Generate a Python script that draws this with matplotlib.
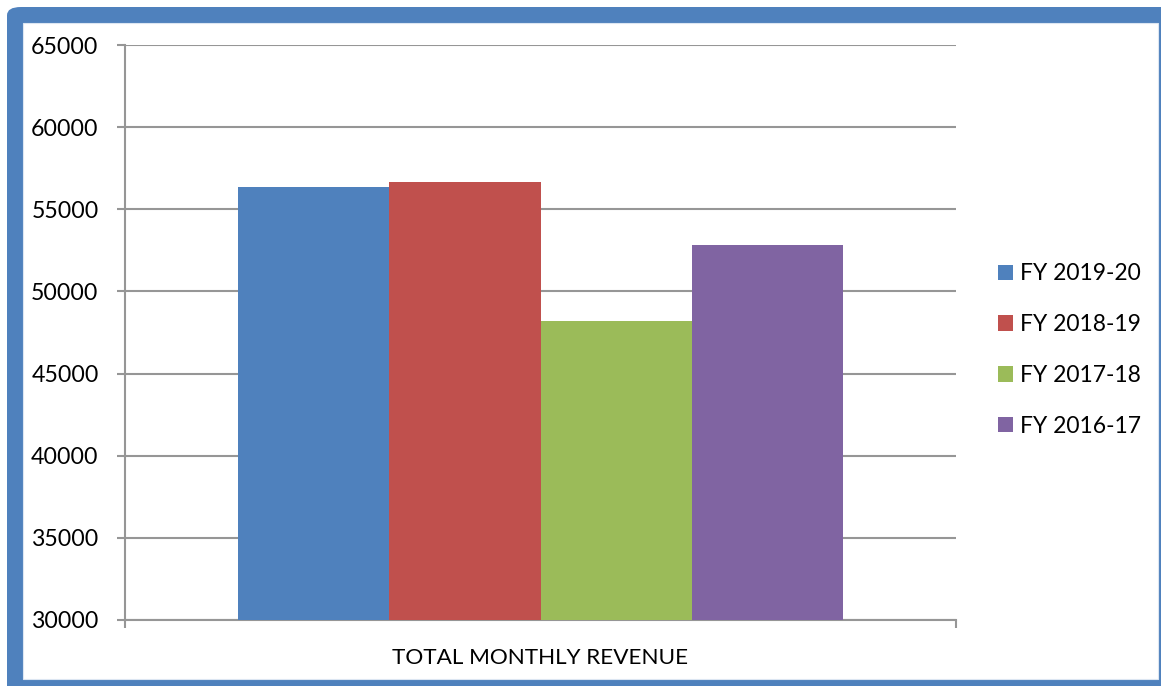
import matplotlib
matplotlib.use("Agg")
import matplotlib.pyplot as plt
from matplotlib.patches import FancyBboxPatch, Rectangle, Patch

plt.rcParams["font.family"] = ["Lato", "DejaVu Sans"]

# ── Data ─────────────────────────────────────────────────────────────────────
category = ["TOTAL MONTHLY REVENUE"]
series = ["FY 2019-20", "FY 2018-19", "FY 2017-18", "FY 2016-17"]
values = [56350, 56650, 48200, 52800]
colors = ["#4F81BD", "#C0504D", "#9BBB59", "#8064A2"]
yticks = [30000, 35000, 40000, 45000, 50000, 55000, 60000, 65000]

W, H = 1161, 686
fig = plt.figure(figsize=(W / 100, H / 100), dpi=100)
fig.patch.set_facecolor("white")

# ── Frame (blue rounded border, partly cropped) ──────────────────────────────
frame = FancyBboxPatch((7 / W, -0.05), 1.1, 1 - 7 / H + 0.05,
                       boxstyle="round,pad=0,rounding_size=0.012",
                       transform=fig.transFigure, facecolor="#4F81BD",
                       edgecolor="none", zorder=0)
fig.patches.append(frame)
inner = Rectangle((23 / W, 7 / H), (1158 - 23) / W, (679 - 23) / H,
                  transform=fig.transFigure, facecolor="white",
                  edgecolor="#DCE6F2", linewidth=0.8, zorder=1)
fig.patches.append(inner)

# ── Axes ─────────────────────────────────────────────────────────────────────
ax = fig.add_axes([125 / W, 1 - 620 / H, (956 - 125) / W, (620 - 45) / H])
ax.set_facecolor("none")
ax.set_zorder(2)

width = 605 / 831 / len(series)
offsets = [(i - (len(series) - 1) / 2) * width for i in range(len(series))]
for off, v, c, s in zip(offsets, values, colors, series):
    ax.bar(0 + off, v - yticks[0], bottom=yticks[0], width=width, color=c,
           label=s, zorder=3)

ax.set_xlim(-0.5, 0.5)
ax.set_ylim(yticks[0], yticks[-1])
ax.set_yticks(yticks)
ax.set_yticklabels([str(t) for t in yticks], fontsize=16.7)
ax.set_xticks([0])
ax.set_xticklabels(category, fontsize=16.2)
ax.set_xticks([-0.5, 0.5], minor=True)

grid_c = "#969696"
ax.yaxis.grid(True, color=grid_c, linewidth=1.5, zorder=1)
for side in ["top", "right"]:
    ax.spines[side].set_visible(False)
for side in ["left", "bottom"]:
    ax.spines[side].set_color(grid_c)
    ax.spines[side].set_linewidth(1.5)
ax.tick_params(axis="y", length=6, width=1.5, color=grid_c, pad=13)
ax.tick_params(axis="x", which="major", length=0, pad=20)
ax.tick_params(axis="x", which="minor", length=6, width=1.5, color=grid_c)

handles = [Patch(facecolor=c, edgecolor="none") for c in colors]
fig.legend(handles, series, loc="center left",
           bbox_to_anchor=(998 / W, 1 - 350 / H), frameon=False,
           fontsize=16.5, handlelength=0.66, handleheight=0.66,
           handletextpad=0.3, labelspacing=1.3, borderpad=0,
           borderaxespad=0)

fig.savefig("out.png", dpi=100, facecolor=fig.get_facecolor())
